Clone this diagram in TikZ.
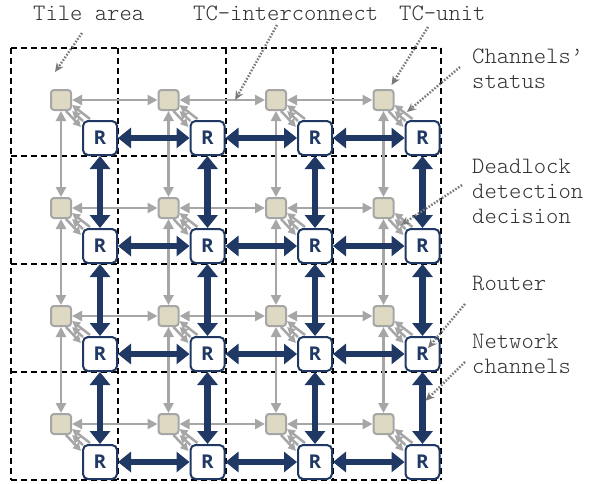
\documentclass[tikz,border=0pt]{standalone}
\usepackage{fontspec}
\newfontfamily\labelfont{lmmonolt10-regular.otf}
\newfontfamily\rfont{Open Sans}
\usetikzlibrary{calc,arrows.meta}
\definecolor{tcfill}{HTML}{DDD9C3}
\definecolor{tcline}{HTML}{A6A6A6}
\definecolor{navy}{HTML}{1F3864}
\definecolor{notegray}{HTML}{7A7A7A}
\definecolor{txt}{HTML}{333333}

\begin{document}
\begin{tikzpicture}[x=1pt,y=-1pt,>={Triangle[length=8pt,width=8pt]}]
  \tikzset{tc/.style={draw=tcline,fill=tcfill,line width=2pt,rounded corners=3pt,minimum size=20pt,inner sep=0pt},
    router/.style={draw=navy,fill=white,line width=2pt,rounded corners=5pt,minimum size=34pt,inner sep=0pt,
      text=navy,font=\rfont\bfseries\fontsize{19}{19}\selectfont},
    tileline/.style={line width=2pt,dash pattern=on 6pt off 4pt},
    tclink/.style={tcline,line width=2.8pt,arrows={Triangle[length=10pt,width=10pt]-Triangle[length=10pt,width=10pt]}},
    chan/.style={navy,line width=6.5pt,arrows={Triangle[length=13pt,width=20pt]-Triangle[length=13pt,width=20pt]}},
    fan/.style={tcline,line width=2.5pt},
    note/.style={notegray,line width=2.4pt,dash pattern=on 1.6pt off 1.6pt,arrows={-Stealth[length=9pt,width=8pt]}},
    lbl/.style={inner sep=0pt,text=txt,font=\labelfont\fontsize{23.5}{25}\selectfont,align=left}}
  \useasboundingbox (0,0) rectangle (591,483);
  % tile areas
  \foreach \k in {11,118,226,333,441}
    \draw[tileline] (\k,48) -- (\k,480);
  \foreach \k in {48,156,264,372,480}
    \draw[tileline] (11,\k) -- (441,\k);
  % TC-units and routers
  \foreach \i in {0,...,3}{
    \foreach \j in {0,...,3}{
      \node[tc] (T\i\j) at (61+107.5*\i,100+108*\j) {};
      \node[router] (R\i\j) at (100+107.5*\i,138+108*\j) {R};
    }
  }
  % TC-interconnect
  \foreach \i/\n in {0/1,1/2,2/3}{
    \foreach \j in {0,...,3}{
      \draw[tclink] (T\i\j) -- (T\n\j);
      \draw[tclink] (T\j\i) -- (T\j\n);
    }
  }
  % network channels
  \foreach \i/\n in {0/1,1/2,2/3}{
    \foreach \j in {0,...,3}{
      \draw[chan] (R\i\j) -- (R\n\j);
      \draw[chan] (R\j\i) -- (R\j\n);
    }
  }
  % status and decision
  \foreach \i in {0,...,3}{
    \foreach \j in {0,...,3}{
      \draw[fan,arrows={<-}] ($(T\i\j.east)+(0,5)$) -- ($(R\i\j.north west)+(8,-1)$);
      \draw[fan,arrows={<-}] (T\i\j.south east) -- ($(R\i\j.north west)+(1,1)$);
      \draw[fan,arrows={->}] ($(T\i\j.south)+(5,0)$) -- ($(R\i\j.north west)+(-1,7)$);
    }
  }
  % labels
  \node[lbl,anchor=base west] (tile) at (33,20) {Tile area};
  \node[lbl,anchor=base west] (inter) at (193,20) {TC-interconnect};
  \node[lbl,anchor=base west] (unit) at (399,20) {TC-unit};
  \node[lbl,anchor=north west] (status) at (472,49) {Channels’\\status};
  \node[lbl,anchor=north west] (dead) at (472,159) {Deadlock\\detection\\decision};
  \node[lbl,anchor=base west] (router) at (472,290) {Router};
  \node[lbl,anchor=north west] (net) at (472,334) {Network\\channels};
  \coordinate (tileP) at (55,72);
  \coordinate (statusP) at (407,112);
  \coordinate (deadP) at (401,225);
  \coordinate (routerP) at (428,348);
  \draw[note] (82,33) -- (tileP);
  \draw[note] (277,25) -- ($(T10)!0.62!(T20)$);
  \draw[note] (428,27) -- ($(T30.north east)+(-3,-4)$);
  \draw[note] (460,67) -- (statusP);
  \draw[note] (462,185) -- (deadP);
  \draw[note] (465,304) -- (routerP);
  \draw[note] (465,362) -- ($(R32.south)!0.4!(R33.north)+(3,0)$);
\end{tikzpicture}
\end{document}
